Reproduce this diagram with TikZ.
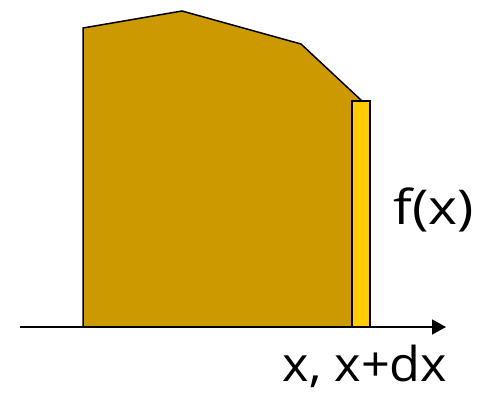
\documentclass[tikz,border=0pt]{standalone}
\usepackage{fontspec}
\setmainfont{Open Sans}
\usetikzlibrary{arrows.meta}
\definecolor{areafill}{RGB}{204,153,0}
\definecolor{stripfill}{RGB}{255,204,0}
\begin{document}
\begin{tikzpicture}[x=1pt,y=-1pt,
  outline/.style={draw=black,line width=1.5pt,line join=miter},
  lbl/.style={font=\fontsize{48}{54}\selectfont,inner sep=0pt}]
\useasboundingbox (0,0) rectangle (480,395);
% area under the curve
\path[outline,fill=areafill] (83,327) -- (83,28) -- (182,11) -- (301,44) -- (362,101) -- (362,327) -- cycle;
% thin strip
\path[outline,fill=stripfill,line width=1.2pt] (352,101) rectangle (370,327);
% axis
\coordinate (axL) at (20,327);
\coordinate (axR) at (446,327);
\draw[line width=1.5pt,-{Triangle[length=14pt,width=15pt]}] (axL) -- (axR);
% labels
\node[lbl,anchor=base,xscale=1.15] (fx) at (434,225) {f(x)};
\node[lbl,anchor=base,xscale=1.05] (xdx) at (365,382) {x, x+dx};
\end{tikzpicture}
\end{document}
